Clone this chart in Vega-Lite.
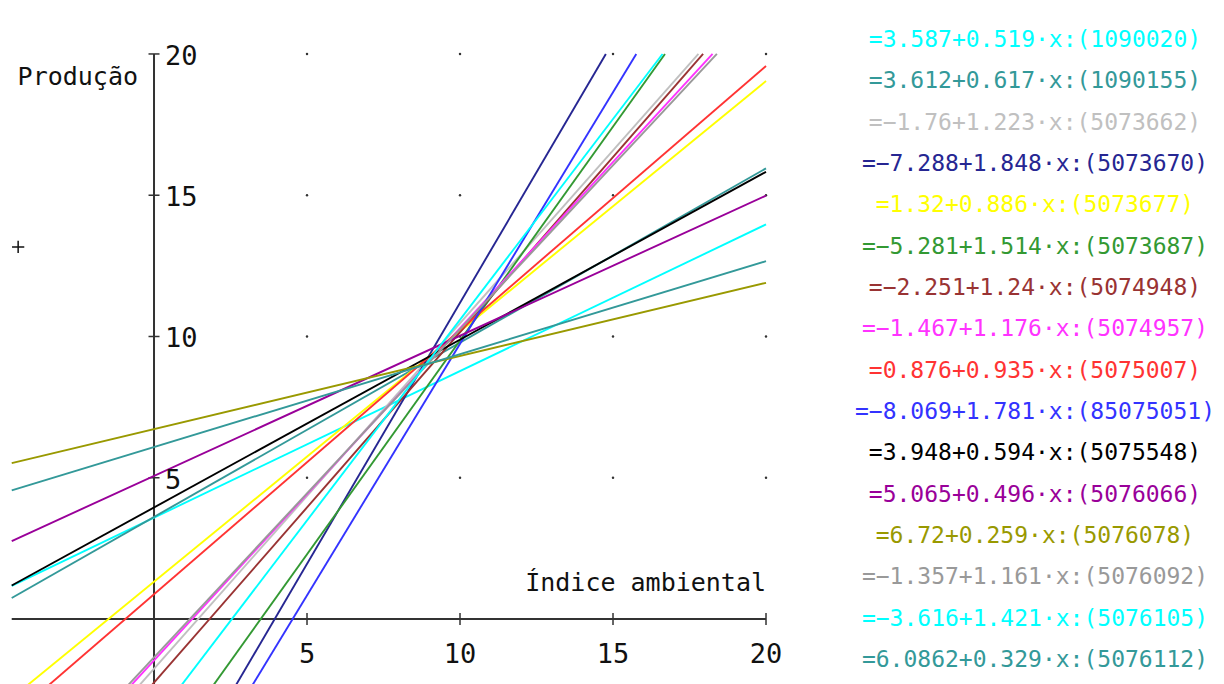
{
  "$schema": "https://vega.github.io/schema/vega-lite/v6.json",
  "width": 1224,
  "height": 684,
  "autosize": {"type": "none"},
  "padding": 0,
  "background": "white",
  "config": {"view": {"stroke": null}, "font": "DejaVu Sans Mono"},
  "datasets": {
    "lines": [
      {"label": "=3.587+0.519·x:(1090020)", "x": -4.65, "y": 1.174},
      {"label": "=3.587+0.519·x:(1090020)", "x": 20, "y": 13.967},
      {"label": "=3.612+0.617·x:(1090155)", "x": -4.65, "y": 0.743},
      {"label": "=3.612+0.617·x:(1090155)", "x": 20, "y": 15.952},
      {"label": "=−1.76+1.223·x:(5073662)", "x": -4.65, "y": -7.447},
      {"label": "=−1.76+1.223·x:(5073662)", "x": 17.792, "y": 20},
      {"label": "=−7.288+1.848·x:(5073670)", "x": -4.65, "y": -15.881},
      {"label": "=−7.288+1.848·x:(5073670)", "x": 14.766, "y": 20},
      {"label": "=1.32+0.886·x:(5073677)", "x": -4.65, "y": -2.8},
      {"label": "=1.32+0.886·x:(5073677)", "x": 20, "y": 19.04},
      {"label": "=−5.281+1.514·x:(5073687)", "x": -4.65, "y": -12.321},
      {"label": "=−5.281+1.514·x:(5073687)", "x": 16.698, "y": 20},
      {"label": "=−2.251+1.24·x:(5074948)", "x": -4.65, "y": -8.017},
      {"label": "=−2.251+1.24·x:(5074948)", "x": 17.944, "y": 20},
      {"label": "=−1.467+1.176·x:(5074957)", "x": -4.65, "y": -6.935},
      {"label": "=−1.467+1.176·x:(5074957)", "x": 18.254, "y": 20},
      {"label": "=0.876+0.935·x:(5075007)", "x": -4.65, "y": -3.472},
      {"label": "=0.876+0.935·x:(5075007)", "x": 20, "y": 19.576},
      {"label": "=−8.069+1.781·x:(85075051)", "x": -4.65, "y": -16.351},
      {"label": "=−8.069+1.781·x:(85075051)", "x": 15.76, "y": 20},
      {"label": "=3.948+0.594·x:(5075548)", "x": -4.65, "y": 1.186},
      {"label": "=3.948+0.594·x:(5075548)", "x": 20, "y": 15.828},
      {"label": "=5.065+0.496·x:(5076066)", "x": -4.65, "y": 2.759},
      {"label": "=5.065+0.496·x:(5076066)", "x": 20, "y": 14.985},
      {"label": "=6.72+0.259·x:(5076078)", "x": -4.65, "y": 5.516},
      {"label": "=6.72+0.259·x:(5076078)", "x": 20, "y": 11.9},
      {"label": "=−1.357+1.161·x:(5076092)", "x": -4.65, "y": -6.756},
      {"label": "=−1.357+1.161·x:(5076092)", "x": 18.395, "y": 20},
      {"label": "=−3.616+1.421·x:(5076105)", "x": -4.65, "y": -10.224},
      {"label": "=−3.616+1.421·x:(5076105)", "x": 16.619, "y": 20},
      {"label": "=6.0862+0.329·x:(5076112)", "x": -4.65, "y": 4.556},
      {"label": "=6.0862+0.329·x:(5076112)", "x": 20, "y": 12.666}
    ],
    "legend": [
      {"label": "=3.587+0.519·x:(1090020)", "order": 1},
      {"label": "=3.612+0.617·x:(1090155)", "order": 2},
      {"label": "=−1.76+1.223·x:(5073662)", "order": 3},
      {"label": "=−7.288+1.848·x:(5073670)", "order": 4},
      {"label": "=1.32+0.886·x:(5073677)", "order": 5},
      {"label": "=−5.281+1.514·x:(5073687)", "order": 6},
      {"label": "=−2.251+1.24·x:(5074948)", "order": 7},
      {"label": "=−1.467+1.176·x:(5074957)", "order": 8},
      {"label": "=0.876+0.935·x:(5075007)", "order": 9},
      {"label": "=−8.069+1.781·x:(85075051)", "order": 10},
      {"label": "=3.948+0.594·x:(5075548)", "order": 11},
      {"label": "=5.065+0.496·x:(5076066)", "order": 12},
      {"label": "=6.72+0.259·x:(5076078)", "order": 13},
      {"label": "=−1.357+1.161·x:(5076092)", "order": 14},
      {"label": "=−3.616+1.421·x:(5076105)", "order": 15},
      {"label": "=6.0862+0.329·x:(5076112)", "order": 16}
    ],
    "ticks": [{"v": 5}, {"v": 10}, {"v": 15}, {"v": 20}],
    "grid": [
      {"gx": 5, "gy": 5}, {"gx": 10, "gy": 5}, {"gx": 15, "gy": 5}, {"gx": 20, "gy": 5},
      {"gx": 5, "gy": 10}, {"gx": 10, "gy": 10}, {"gx": 15, "gy": 10}, {"gx": 20, "gy": 10},
      {"gx": 5, "gy": 15}, {"gx": 10, "gy": 15}, {"gx": 15, "gy": 15}, {"gx": 20, "gy": 15},
      {"gx": 5, "gy": 20}, {"gx": 10, "gy": 20}, {"gx": 15, "gy": 20}, {"gx": 20, "gy": 20}
    ],
    "marker": [{"px": -4.44, "py": 13.17}]
  },
  "layer": [
    {
      "layer": [
        {
          "data": {"name": "grid"},
          "mark": {"type": "point", "filled": true, "size": 6, "color": "#333333", "opacity": 1},
          "encoding": {
            "x": {"field": "gx", "type": "quantitative", "scale": {"domain": [-5.033, 34.967], "nice": false, "zero": false}, "axis": null},
            "y": {"field": "gy", "type": "quantitative", "scale": {"domain": [-2.3, 21.91], "nice": false, "zero": false}, "axis": null}
          }
        },
        {
          "data": {"values": [{}]},
          "mark": {"type": "rule", "color": "#333333", "strokeWidth": 2},
          "encoding": {
            "x": {"datum": -4.65, "type": "quantitative", "scale": {"domain": [-5.033, 34.967], "nice": false, "zero": false}, "axis": null},
            "x2": {"datum": 20},
            "y": {"datum": 0, "type": "quantitative", "scale": {"domain": [-2.3, 21.91], "nice": false, "zero": false}, "axis": null}
          }
        },
        {
          "data": {"values": [{}]},
          "mark": {"type": "rule", "color": "#333333", "strokeWidth": 2},
          "encoding": {
            "x": {"datum": 0, "type": "quantitative", "scale": {"domain": [-5.033, 34.967], "nice": false, "zero": false}, "axis": null},
            "y": {"datum": -2.3, "type": "quantitative", "scale": {"domain": [-2.3, 21.91], "nice": false, "zero": false}, "axis": null},
            "y2": {"datum": 20}
          }
        },
        {
          "data": {"name": "ticks"},
          "mark": {"type": "tick", "orient": "horizontal", "color": "#333333", "size": 11, "thickness": 1.5, "opacity": 1},
          "encoding": {
            "x": {"datum": 0, "type": "quantitative", "scale": {"domain": [-5.033, 34.967], "nice": false, "zero": false}, "axis": null},
            "y": {"field": "v", "type": "quantitative", "scale": {"domain": [-2.3, 21.91], "nice": false, "zero": false}, "axis": null}
          }
        },
        {
          "data": {"name": "ticks"},
          "mark": {"type": "tick", "orient": "vertical", "color": "#333333", "size": 12, "thickness": 1.5, "opacity": 1},
          "encoding": {
            "x": {"field": "v", "type": "quantitative", "scale": {"domain": [-5.033, 34.967], "nice": false, "zero": false}, "axis": null},
            "y": {"datum": 0, "type": "quantitative", "scale": {"domain": [-2.3, 21.91], "nice": false, "zero": false}, "axis": null}
          }
        },
        {
          "data": {"name": "lines"},
          "mark": {"type": "line", "strokeWidth": 1.9, "clip": true},
          "encoding": {
            "x": {"field": "x", "type": "quantitative", "scale": {"domain": [-5.033, 34.967], "nice": false, "zero": false}, "axis": null},
            "y": {"field": "y", "type": "quantitative", "scale": {"domain": [-2.3, 21.91], "nice": false, "zero": false}, "axis": null},
            "color": {
              "field": "label", "type": "nominal", "legend": null,
              "scale": {
                "domain": [
                  "=3.587+0.519·x:(1090020)", "=3.612+0.617·x:(1090155)", "=−1.76+1.223·x:(5073662)", "=−7.288+1.848·x:(5073670)",
                  "=1.32+0.886·x:(5073677)", "=−5.281+1.514·x:(5073687)", "=−2.251+1.24·x:(5074948)", "=−1.467+1.176·x:(5074957)",
                  "=0.876+0.935·x:(5075007)", "=−8.069+1.781·x:(85075051)", "=3.948+0.594·x:(5075548)", "=5.065+0.496·x:(5076066)",
                  "=6.72+0.259·x:(5076078)", "=−1.357+1.161·x:(5076092)", "=−3.616+1.421·x:(5076105)", "=6.0862+0.329·x:(5076112)"
                ],
                "range": [
                  "#00FFFF", "#339999", "#C0C0C0", "#262692",
                  "#FFFF00", "#339933", "#993333", "#FF33FF",
                  "#FF3333", "#3333FF", "#000000", "#990099",
                  "#999900", "#999999", "#00FFFF", "#339999"
                ]
              }
            }
          }
        },
        {
          "data": {"name": "ticks"},
          "mark": {"type": "text", "align": "left", "baseline": "alphabetic", "dx": 11, "dy": 11, "fontSize": 27, "color": "#111111", "font": "DejaVu Sans Mono"},
          "encoding": {
            "x": {"datum": 0, "type": "quantitative", "scale": {"domain": [-5.033, 34.967], "nice": false, "zero": false}, "axis": null},
            "y": {"field": "v", "type": "quantitative", "scale": {"domain": [-2.3, 21.91], "nice": false, "zero": false}, "axis": null},
            "text": {"field": "v", "type": "quantitative"}
          }
        },
        {
          "data": {"name": "ticks"},
          "mark": {"type": "text", "align": "center", "baseline": "alphabetic", "dy": 44, "fontSize": 27, "color": "#111111", "font": "DejaVu Sans Mono"},
          "encoding": {
            "x": {"field": "v", "type": "quantitative", "scale": {"domain": [-5.033, 34.967], "nice": false, "zero": false}, "axis": null},
            "y": {"datum": 0, "type": "quantitative", "scale": {"domain": [-2.3, 21.91], "nice": false, "zero": false}, "axis": null},
            "text": {"field": "v", "type": "quantitative"}
          }
        },
        {
          "data": {"values": [{"t": "Produção"}]},
          "mark": {"type": "text", "align": "right", "baseline": "alphabetic", "dx": -16, "fontSize": 25, "color": "#111111", "font": "DejaVu Sans Mono"},
          "encoding": {
            "x": {"datum": 0, "type": "quantitative", "scale": {"domain": [-5.033, 34.967], "nice": false, "zero": false}, "axis": null},
            "y": {"datum": 18.9, "type": "quantitative", "scale": {"domain": [-2.3, 21.91], "nice": false, "zero": false}, "axis": null},
            "text": {"field": "t"}
          }
        },
        {
          "data": {"values": [{"t": "Índice ambiental"}]},
          "mark": {"type": "text", "align": "right", "baseline": "alphabetic", "fontSize": 25, "color": "#111111", "font": "DejaVu Sans Mono"},
          "encoding": {
            "x": {"datum": 20, "type": "quantitative", "scale": {"domain": [-5.033, 34.967], "nice": false, "zero": false}, "axis": null},
            "y": {"datum": 0.99, "type": "quantitative", "scale": {"domain": [-2.3, 21.91], "nice": false, "zero": false}, "axis": null},
            "text": {"field": "t"}
          }
        },
        {
          "data": {"name": "marker"},
          "mark": {"type": "point", "shape": "M-1,0H1M0,-1V1", "filled": false, "size": 150, "stroke": "#111111", "strokeWidth": 1.5, "opacity": 1},
          "encoding": {
            "x": {"field": "px", "type": "quantitative", "scale": {"domain": [-5.033, 34.967], "nice": false, "zero": false}, "axis": null},
            "y": {"field": "py", "type": "quantitative", "scale": {"domain": [-2.3, 21.91], "nice": false, "zero": false}, "axis": null}
          }
        }
      ]
    },
    {
      "data": {"name": "legend"},
      "mark": {"type": "text", "align": "center", "baseline": "middle", "fontSize": 23, "font": "DejaVu Sans Mono"},
      "encoding": {
        "x": {"datum": 28.79, "type": "quantitative", "scale": {"domain": [-5.033, 34.967], "nice": false, "zero": false}, "axis": null},
        "y": {"field": "order", "type": "ordinal", "scale": {"type": "point", "padding": 0.774, "align": 0.625}, "axis": null},
        "color": {"field": "label", "type": "nominal", "legend": null},
        "text": {"field": "label"}
      }
    }
  ],
  "resolve": {"scale": {"y": "independent"}}
}
